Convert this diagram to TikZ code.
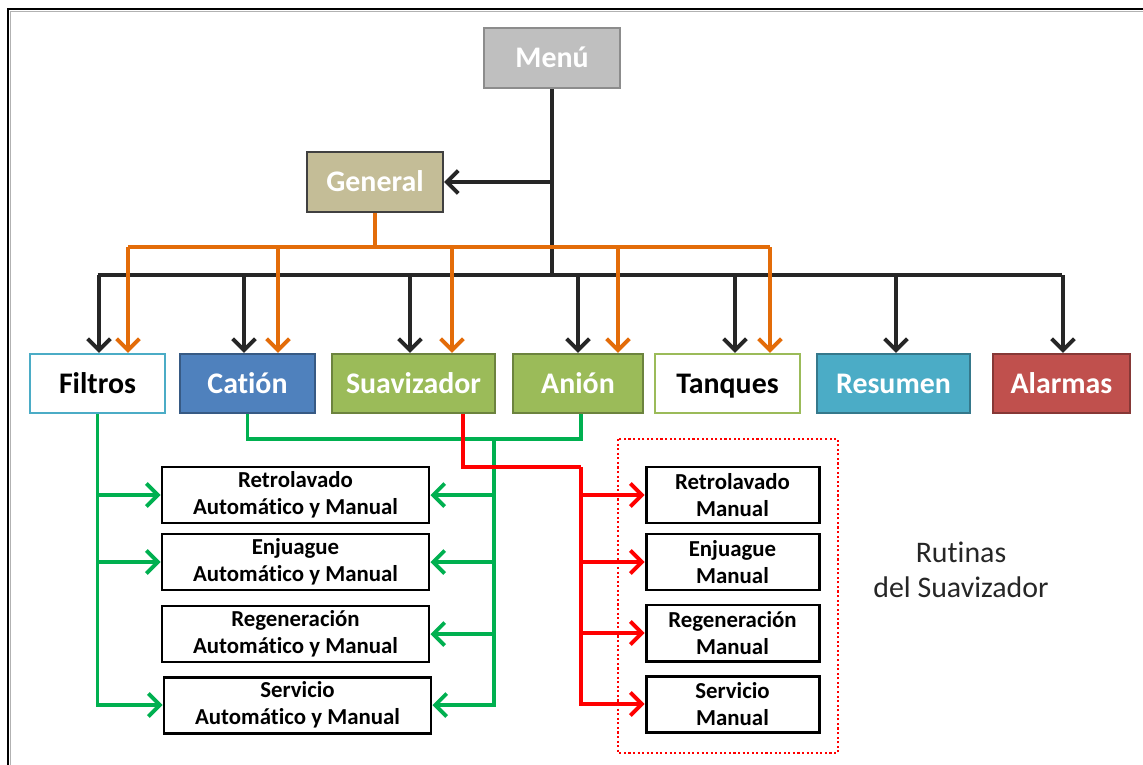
\documentclass[tikz,border=0pt]{standalone}
\usepackage{fontspec}
\setmainfont{Carlito}[Ligatures=NoCommon]
\usepackage{tikz}
\usetikzlibrary{arrows.meta}
\definecolor{menugray}{HTML}{BFBFBF}
\definecolor{gentan}{HTML}{C4BD97}
\definecolor{cyanb}{HTML}{4BACC6}
\definecolor{blueb}{HTML}{4F81BD}
\definecolor{greenb}{HTML}{9BBB59}
\definecolor{redb}{HTML}{C0504D}
\definecolor{orangel}{HTML}{E36C09}
\definecolor{greenl}{HTML}{00B050}
\definecolor{redl}{HTML}{FF0000}
\tikzstyle{head}=[rectangle, draw, line width=1.3pt, text=white, minimum width=2.72cm, minimum height=1.2cm, text height=13pt, text depth=2pt, font=\fontsize{17}{20}\selectfont\bfseries]
\tikzstyle{row}=[rectangle, draw, line width=1.3pt, minimum height=1.18cm, text height=13pt, text depth=2pt, font=\fontsize{17}{20}\selectfont\bfseries]
\tikzstyle{sub}=[rectangle, draw=black, line width=1.7pt, fill=white, minimum height=1.12cm, align=center, inner sep=0pt, font=\fontsize{13}{15.5}\selectfont\bfseries]
\tikzstyle{blk}=[line width=2.2pt, draw=black!85]
\tikzstyle{org}=[line width=2.2pt, draw=orangel]
\tikzstyle{grn}=[line width=2.2pt, draw=greenl]
\tikzstyle{rd}=[line width=2.2pt, draw=redl]
\tikzstyle{arr}=[-{Straight Barb[length=6.5pt,width=13pt]}]
\tikzstyle{dotbox}=[draw=redl, line width=1.5pt, dash pattern=on 1.2pt off 1.4pt]

\begin{document}
\begin{tikzpicture}
\useasboundingbox (0,0) rectangle (22.86,-15.3);
%frame
\draw[gray!60, line width=0.6pt] (0.21,-15.3) -- (0.21,-0.23) -- (22.86,-0.23);
\draw[black, line width=1.2pt] (0.16,-15.3) -- (0.16,-0.18) -- (22.86,-0.18);

%Top
\node[head, fill=menugray, draw=black!45] (menu) at (11.04,-1.16){Menú};
\node[head, fill=gentan, draw=black!75] (general) at (7.5,-3.64){General};

%Row One
\node[row, fill=white, draw=cyanb, minimum width=2.7cm] (filtros) at (1.95,-7.67){Filtros};
\node[row, fill=blueb, draw=blueb!70!black, text=white, minimum width=2.7cm] (cation) at (4.95,-7.67){Catión};
\node[row, fill=greenb, draw=greenb!70!black, text=white, minimum width=3.26cm] (suav) at (8.27,-7.67){Suavizador};
\node[row, fill=greenb, draw=greenb!70!black, text=white, minimum width=2.6cm] (anion) at (11.56,-7.67){Anión};
\node[row, fill=white, draw=greenb, minimum width=2.9cm] (tanques) at (14.55,-7.67){Tanques};
\node[row, fill=cyanb, draw=cyanb!70!black, text=white, minimum width=3.06cm] (resumen) at (17.87,-7.67){Resumen};
\node[row, fill=redb, draw=redb!70!black, text=white, minimum width=2.74cm] (alarmas) at (21.23,-7.67){Alarmas};

%Routines
\node[sub, minimum width=5.34cm] (retro) at (5.91,-9.9){Retrolavado\\Automático y Manual};
\node[sub, minimum width=5.34cm] (enju) at (5.91,-11.24){Enjuague\\Automático y Manual};
\node[sub, minimum width=5.34cm] (rege) at (5.91,-12.68){Regeneración\\Automático y Manual};
\node[sub, minimum width=5.34cm] (serv) at (5.95,-14.1){Servicio\\Automático y Manual};
\node[sub, minimum width=3.46cm] (rretro) at (14.65,-9.9){Retrolavado\\Manual};
\node[sub, minimum width=3.46cm] (renju) at (14.65,-11.24){Enjuague\\Manual};
\node[sub, minimum width=3.46cm] (rrege) at (14.65,-12.66){Regeneración\\Manual};
\node[sub, minimum width=3.46cm] (rserv) at (14.65,-14.08){Servicio\\Manual};
\node[align=center, text=black!85, font=\fontsize{17}{20}\selectfont] (rutinas) at (19.22,-11.4){Rutinas\\del Suavizador};
\draw[dotbox] (12.36,-8.78) rectangle (16.76,-15.06);

%Buses
\coordinate (kbus) at (0,-5.5);
\coordinate (obus) at (0,-4.94);
\coordinate (gbus) at (0,-8.78);
\coordinate (gv) at (9.88,-8.78);
\coordinate (rbus) at (11.62,-9.34);

%Black
\draw[blk] (menu.south) -- (menu.south |- kbus);
\draw[blk, arr] (menu.south |- general.east) -- (general.east);
\draw[blk] (filtros.north |- kbus) -- (alarmas.north |- kbus);
\foreach \b/\dx in {filtros/0.03, cation/-0.07, suav/-0.07, anion/0, tanques/0.15, resumen/0.05, alarmas/0.03}
  \draw[blk, arr] ([xshift=\dx cm]\b.north |- kbus) -- ([xshift=\dx cm]\b.north);

%Orange
\draw[org] (general.south) -- (general.south |- obus);
\draw[org] ([xshift=0.61cm]filtros.north |- obus) -- ([xshift=0.85cm]tanques.north |- obus);
\foreach \b/\dx in {filtros/0.61, cation/0.61, suav/0.77, anion/0.8, tanques/0.85}
  \draw[org, arr] ([xshift=\dx cm]\b.north |- obus) -- ([xshift=\dx cm]\b.north);

%Green
\draw[grn, arr] (filtros.south) |- (serv.west);
\foreach \s in {retro, enju}
  \draw[grn, arr] (filtros.south |- \s.west) -- (\s.west);
\draw[grn] (cation.south) -- (cation.south |- gbus) -- ([xshift=0.06cm]anion.south |- gbus) -- ([xshift=0.06cm]anion.south);
\draw[grn, arr] (gv) |- (serv.east);
\foreach \s in {retro, enju, rege}
  \draw[grn, arr] (gv |- \s.east) -- (\s.east);

%Red
\draw[rd] ([xshift=0.99cm]suav.south) |- (rbus);
\draw[rd, arr] (rbus) |- (rserv.west);
\foreach \s in {rretro, renju, rrege}
  \draw[rd, arr] (rbus |- \s.west) -- (\s.west);
\end{tikzpicture}
\end{document}
